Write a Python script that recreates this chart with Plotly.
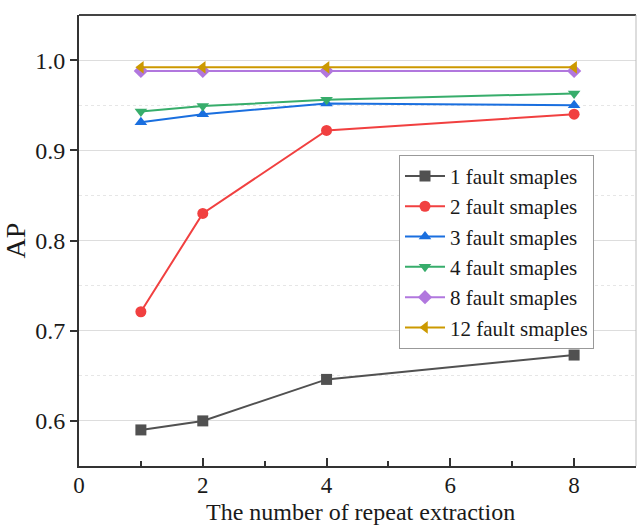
import plotly.graph_objects as go

x_vals = [1, 2, 4, 8]
series_names = ["1 fault smaples", "2 fault smaples", "3 fault smaples",
                "4 fault smaples", "8 fault smaples", "12 fault smaples"]
ap_1 = [0.590, 0.600, 0.646, 0.673]
ap_2 = [0.721, 0.830, 0.922, 0.940]
ap_3 = [0.931, 0.940, 0.952, 0.950]
ap_4 = [0.943, 0.949, 0.956, 0.963]
ap_8 = [0.988, 0.988, 0.988, 0.988]
ap_12 = [0.992, 0.992, 0.992, 0.992]
y_tick_vals = [0.6, 0.7, 0.8, 0.9, 1.0]
y_tick_text = ["0.6", "0.7", "0.8", "0.9", "1.0"]
x_tick_vals = [0, 2, 4, 6, 8]
x_title = "The number of repeat extraction"
y_title = "AP"

colors = ["#515151", "#F14040", "#1A6FDF", "#37AD6B", "#B177DE", "#CC9900"]
symbols = ["square", "circle", "triangle-up", "triangle-down", "diamond", "triangle-left"]
all_series = [ap_1, ap_2, ap_3, ap_4, ap_8, ap_12]

fig = go.Figure()
for name, ys, c, s in zip(series_names, all_series, colors, symbols):
    fig.add_trace(go.Scatter(
        x=x_vals, y=ys, name=name, mode="lines+markers",
        line=dict(color=c, width=2),
        marker=dict(symbol=s, size=11, color=c),
    ))

font_family = "Liberation Serif"
txt = "#1a1a1a"
fig.update_layout(
    width=638, height=527,
    margin=dict(l=79, r=2, t=15, b=61),
    plot_bgcolor="white", paper_bgcolor="white",
    font=dict(family=font_family, size=24, color=txt),
    showlegend=True,
    legend=dict(
        x=0.5745, y=0.69, xanchor="left", yanchor="top",
        bordercolor="#999", borderwidth=1, bgcolor="white",
        font=dict(family=font_family, size=21, color=txt),
        tracegroupgap=0, itemwidth=40,
    ),
    xaxis=dict(
        range=[0, 9], tickvals=x_tick_vals, showgrid=False, zeroline=False,
        showline=True, linecolor="#333", linewidth=2,
        ticks="inside", ticklen=8, tickwidth=1.5, tickcolor="#333",
        minor=dict(dtick=1, tick0=0, ticks="inside", ticklen=5, tickwidth=1.5, tickcolor="#333"),
        tickfont=dict(family=font_family, size=23, color=txt),
        ticklabelstandoff=-3,
    ),
    yaxis=dict(
        range=[0.55, 1.05], tickvals=y_tick_vals, ticktext=y_tick_text,
        showgrid=True, gridcolor="#dddddd", gridwidth=1, zeroline=False,
        showline=True, linecolor="#333", linewidth=2,
        ticks="outside", ticklen=7, tickwidth=1.5, tickcolor="#333",
        minor=dict(tickvals=[0.65, 0.75, 0.85, 0.95], showgrid=True,
                   gridcolor="#e6e6e6", griddash="dot", gridwidth=1, ticks=""),
        title=dict(text=y_title, font=dict(family=font_family, size=28, color=txt), standoff=6),
        tickfont=dict(family=font_family, size=24, color=txt),
    ),
)
fig.add_annotation(text=x_title, xref="paper", yref="paper", x=0.505, y=-0.102,
                   xanchor="center", yanchor="middle", showarrow=False,
                   font=dict(family=font_family, size=24, color=txt))
fig.add_shape(type="line", xref="paper", yref="paper", x0=0, x1=1, y0=1, y1=1,
              line=dict(color="#444", width=2))
fig.add_shape(type="line", xref="paper", yref="paper", x0=1, x1=1, y0=0, y1=1,
              line=dict(color="#bbb", width=1))

fig.write_html("out.html")
